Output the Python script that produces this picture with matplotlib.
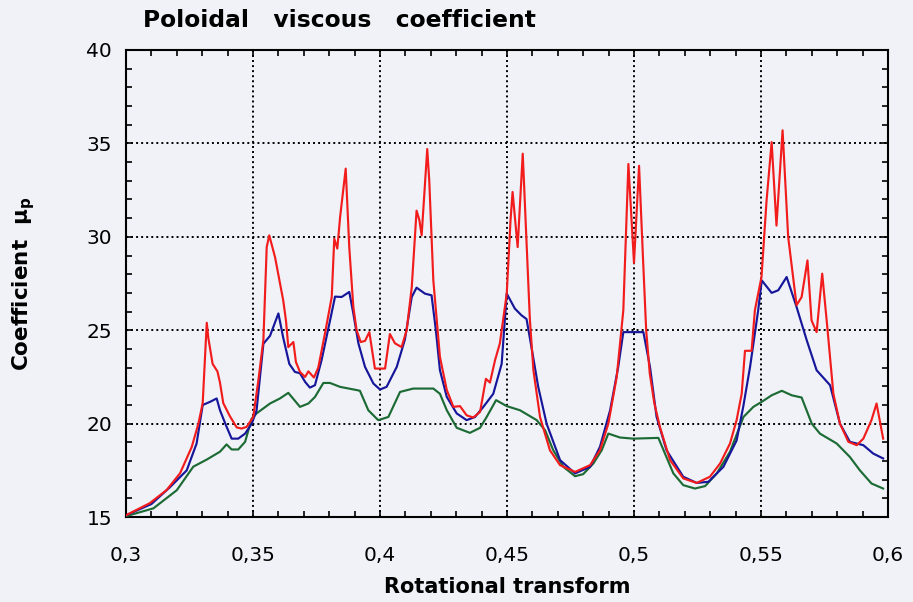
import matplotlib
matplotlib.use("Agg")
import matplotlib.pyplot as plt
from matplotlib.ticker import MultipleLocator, FixedLocator, FixedFormatter

plt.rcParams["font.family"] = ["DejaVu Sans"]
plt.rcParams["mathtext.fontset"] = "dejavusans"

# Rotational transform / coefficient samples, three curves
t_red = [0.3000, 0.3094, 0.3160, 0.3213, 0.3259, 0.3285, 0.3302, 0.3318, 0.3324, 0.3341,
         0.3360, 0.3370, 0.3383, 0.3409, 0.3436, 0.3455, 0.3475, 0.3501, 0.3521, 0.3541,
         0.3554, 0.3564, 0.3587, 0.3619, 0.3630, 0.3639, 0.3659, 0.3669, 0.3685, 0.3705,
         0.3718, 0.3740, 0.3757, 0.3783, 0.3810, 0.3820, 0.3832, 0.3843, 0.3865, 0.3879,
         0.3895, 0.3908, 0.3924, 0.3941, 0.3958, 0.3980, 0.4020, 0.4039, 0.4059, 0.4085,
         0.4105, 0.4125, 0.4144, 0.4155, 0.4164, 0.4186, 0.4194, 0.4210, 0.4236, 0.4263,
         0.4289, 0.4315, 0.4341, 0.4367, 0.4394, 0.4417, 0.4433, 0.4453, 0.4472, 0.4499,
         0.4514, 0.4522, 0.4542, 0.4562, 0.4590, 0.4604, 0.4630, 0.4669, 0.4709, 0.4768,
         0.4827, 0.4866, 0.4899, 0.4932, 0.4958, 0.4978, 0.5000, 0.5020, 0.5035, 0.5048,
         0.5062, 0.5080, 0.5102, 0.5142, 0.5194, 0.5247, 0.5299, 0.5339, 0.5378, 0.5404,
         0.5424, 0.5437, 0.5463, 0.5476, 0.5502, 0.5522, 0.5542, 0.5561, 0.5585, 0.5607,
         0.5640, 0.5660, 0.5683, 0.5699, 0.5719, 0.5741, 0.5761, 0.5785, 0.5811, 0.5844,
         0.5877, 0.5903, 0.5935, 0.5955, 0.5981]
mu_red = [15.1, 15.75, 16.45, 17.35, 18.76, 20.0, 21.1, 25.4, 24.6, 23.2,
          22.8, 22.2, 21.1, 20.4, 19.8, 19.74, 19.83, 20.36, 22.3, 24.5,
          29.45, 30.08, 28.9, 26.6, 25.5, 24.1, 24.37, 23.3, 22.77, 22.5,
          22.8, 22.47, 23.0, 24.8, 26.78, 29.9, 29.37, 31.06, 33.65, 29.45,
          26.25, 25.0, 24.37, 24.43, 24.9, 22.95, 22.95, 24.8, 24.3, 24.1,
          25.0, 27.3, 31.4, 30.9, 30.08, 34.7, 33.0, 27.67, 23.57, 21.8,
          20.9, 20.94, 20.45, 20.33, 20.63, 22.4, 22.2, 23.4, 24.3, 26.96,
          30.9, 32.4, 29.45, 34.45, 25.6, 22.86, 20.36, 18.58, 17.78, 17.42,
          17.78, 18.58, 20.0, 22.5, 26.07, 33.9, 28.6, 33.8, 29.0, 25.0,
          22.7, 21.1, 19.83, 18.05, 17.07, 16.83, 17.16, 17.87, 18.94, 20.19,
          21.6, 23.9, 23.9, 26.07, 27.85, 31.95, 35.07, 30.6, 35.7, 30.0,
          26.34, 26.78, 28.74, 25.53, 24.9, 28.03, 25.18, 21.6, 20.0, 19.03,
          18.85, 19.2, 20.19, 21.08, 19.2]

t_blue = [0.3000, 0.3100, 0.3173, 0.3239, 0.3278, 0.3302, 0.3331, 0.3357, 0.3370, 0.3394,
          0.3416, 0.3442, 0.3469, 0.3495, 0.3514, 0.3541, 0.3567, 0.3600, 0.3619, 0.3643,
          0.3665, 0.3685, 0.3705, 0.3724, 0.3744, 0.3770, 0.3803, 0.3823, 0.3849, 0.3879,
          0.3895, 0.3915, 0.3941, 0.3974, 0.4000, 0.4026, 0.4066, 0.4098, 0.4125, 0.4144,
          0.4177, 0.4203, 0.4220, 0.4236, 0.4263, 0.4302, 0.4341, 0.4374, 0.4407, 0.4446,
          0.4479, 0.4499, 0.4531, 0.4557, 0.4577, 0.4595, 0.4623, 0.4656, 0.4709, 0.4768,
          0.4827, 0.4866, 0.4906, 0.4938, 0.4958, 0.5037, 0.5063, 0.5089, 0.5128, 0.5194,
          0.5247, 0.5293, 0.5352, 0.5404, 0.5430, 0.5457, 0.5489, 0.5503, 0.5542, 0.5568,
          0.5601, 0.5640, 0.5680, 0.5719, 0.5772, 0.5811, 0.5850, 0.5903, 0.5942, 0.5981]
mu_blue = [15.1, 15.7, 16.6, 17.5, 18.94, 21.0, 21.17, 21.35, 20.72, 19.9,
           19.2, 19.2, 19.47, 20.0, 20.7, 24.28, 24.7, 25.9, 24.6, 23.2,
           22.77, 22.7, 22.24, 21.93, 22.06, 23.4, 25.5, 26.8, 26.78, 27.05,
           25.9, 24.3, 23.04, 22.15, 21.83, 21.97, 23.04, 24.5, 26.78, 27.28,
           26.96, 26.87, 25.0, 22.86, 21.43, 20.55, 20.19, 20.36, 20.9, 21.6,
           23.2, 26.96, 26.16, 25.8, 25.6, 24.2, 21.97, 20.0, 18.05, 17.34,
           17.69, 18.76, 20.72, 23.04, 24.9, 24.9, 23.04, 20.36, 18.58, 17.16,
           16.83, 16.89, 17.69, 19.1, 20.9, 23.04, 26.07, 27.67, 27.0, 27.14,
           27.85, 26.25, 24.47, 22.86, 22.06, 20.0, 19.03, 18.85, 18.4, 18.14]

t_green = [0.3000, 0.3108, 0.3200, 0.3265, 0.3318, 0.3370, 0.3396, 0.3416, 0.3442, 0.3469,
           0.3495, 0.3514, 0.3567, 0.3606, 0.3639, 0.3685, 0.3718, 0.3744, 0.3777, 0.3803,
           0.3843, 0.3908, 0.3921, 0.3954, 0.3993, 0.4033, 0.4079, 0.4131, 0.4210, 0.4236,
           0.4263, 0.4302, 0.4354, 0.4394, 0.4420, 0.4457, 0.4499, 0.4551, 0.4617, 0.4650,
           0.4682, 0.4722, 0.4768, 0.4800, 0.4840, 0.4873, 0.4899, 0.4945, 0.4997, 0.5096,
           0.5122, 0.5155, 0.5194, 0.5240, 0.5280, 0.5326, 0.5378, 0.5431, 0.5470, 0.5503,
           0.5542, 0.5582, 0.5621, 0.5660, 0.5700, 0.5732, 0.5798, 0.5850, 0.5889, 0.5935,
           0.5981]
mu_green = [15.05, 15.47, 16.44, 17.7, 18.08, 18.5, 18.89, 18.62, 18.62, 19.03,
            20.28, 20.55, 21.08, 21.35, 21.65, 20.9, 21.08, 21.43, 22.18, 22.18,
            21.97, 21.8, 21.76, 20.72, 20.19, 20.36, 21.7, 21.88, 21.88, 21.6,
            20.72, 19.78, 19.51, 19.78, 20.36, 21.26, 20.94, 20.72, 20.19, 19.65,
            18.58, 17.69, 17.19, 17.3, 17.87, 18.58, 19.47, 19.26, 19.2, 19.24,
            18.4, 17.34, 16.71, 16.53, 16.66, 17.34, 18.5, 20.36, 20.9, 21.17,
            21.52, 21.76, 21.52, 21.4, 20.0, 19.47, 18.94, 18.22, 17.51, 16.8,
            16.53]

x_ticks = [0.30, 0.35, 0.40, 0.45, 0.50, 0.55, 0.60]
x_tick_labels = ["0,3", "0,35", "0,4", "0,45", "0,5", "0,55", "0,6"]
y_ticks = [15, 20, 25, 30, 35, 40]

bg = "#f0f2f8"
fig = plt.figure(figsize=(9.13, 6.02), dpi=100, facecolor=bg)
ax = fig.add_axes([0.138, 0.141, 0.8346, 0.776], facecolor=bg)

ax.plot(t_green, mu_green, color="#1d6b34", lw=1.55, zorder=3)
ax.plot(t_blue, mu_blue, color="#16169a", lw=1.55, zorder=4)
ax.plot(t_red, mu_red, color="#f21c1c", lw=1.55, zorder=5)

ax.set_xlim(0.3, 0.6)
ax.set_ylim(15, 40)
ax.xaxis.set_major_locator(FixedLocator(x_ticks))
ax.xaxis.set_major_formatter(FixedFormatter(x_tick_labels))
ax.xaxis.set_minor_locator(MultipleLocator(0.01))
ax.yaxis.set_major_locator(FixedLocator(y_ticks))
ax.yaxis.set_minor_locator(MultipleLocator(1))

ax.grid(True, which="major", color="black", lw=1.4, linestyle=(0, (1, 1.6)))
ax.tick_params(which="both", direction="in", top=True, right=True, width=1.2, colors="black")
ax.tick_params(which="major", length=5, labelsize=14.5)
ax.tick_params(axis="x", which="major", pad=21)
ax.tick_params(axis="y", which="major", pad=10)
ax.tick_params(which="minor", length=4.5)
for sp in ax.spines.values():
    sp.set_linewidth(1.5)

ax.set_xlabel("Rotational transform", fontsize=15, fontweight="bold", va="baseline")
ax.xaxis.set_label_coords(0.5, -0.1627)
ax.set_ylabel("Coefficient  μ$_\\mathbf{p}$", fontsize=15.5, fontweight="bold", va="baseline")
ax.yaxis.set_label_coords(-0.1286, 0.5)

fig.text(143 / 913, 1 - 27 / 602, "Poloidal   viscous   coefficient",
         fontsize=16.8, fontweight="bold", ha="left", va="baseline")

fig.savefig("out.png", dpi=100, facecolor=bg)
